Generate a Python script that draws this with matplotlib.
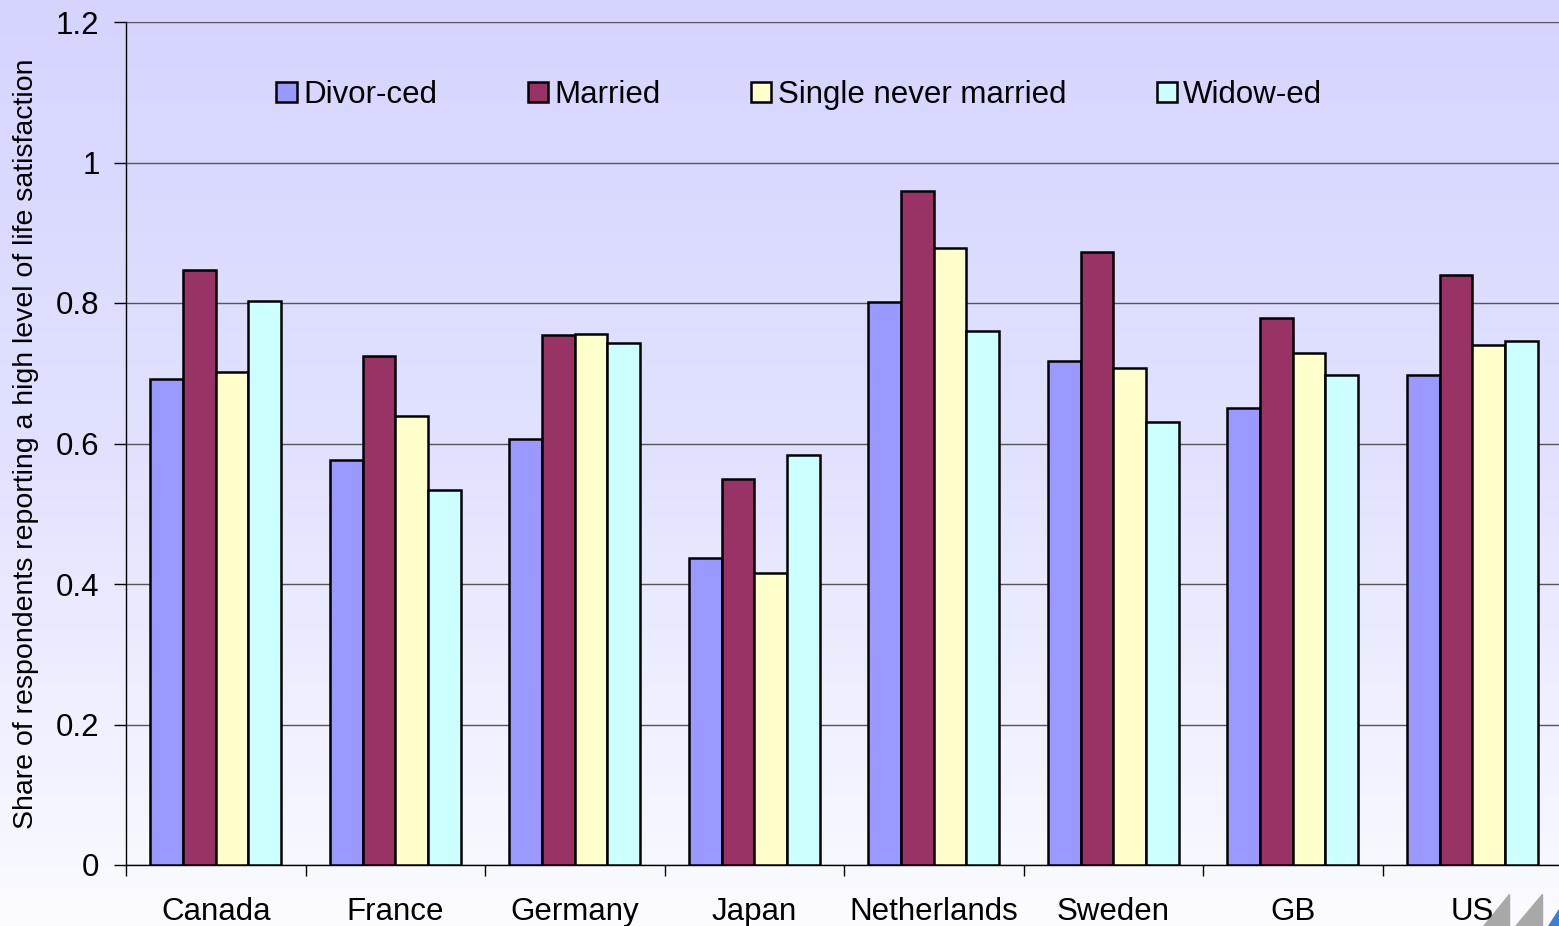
import matplotlib
matplotlib.use("Agg")
import matplotlib.pyplot as plt
import numpy as np
from matplotlib.colors import LinearSegmentedColormap
from matplotlib.patches import Polygon

plt.rcParams["font.family"] = ["Liberation Sans", "DejaVu Sans"]

# ── data ───────────────────────────────────────────────────────────────────────
countries = ["Canada", "France", "Germany", "Japan", "Netherlands", "Sweden", "GB", "US"]
series    = ["Divor-ced", "Married", "Single never married", "Widow-ed"]
divorced  = [0.692, 0.576, 0.606, 0.437, 0.801, 0.717, 0.651, 0.697]
married   = [0.847, 0.725, 0.754, 0.549, 0.959, 0.873, 0.779, 0.840]
single    = [0.702, 0.639, 0.756, 0.416, 0.878, 0.707, 0.729, 0.740]
widowed   = [0.803, 0.534, 0.743, 0.584, 0.760, 0.631, 0.697, 0.746]
colors    = ["#9999FF", "#993366", "#FFFFCC", "#CCFFFF"]
yticks    = [0, 0.2, 0.4, 0.6, 0.8, 1, 1.2]
ytick_lbl = ["0", "0.2", "0.4", "0.6", "0.8", "1", "1.2"]

fig = plt.figure(figsize=(15.59, 9.26), dpi=100)

# background gradient over the whole figure
bg = fig.add_axes([0, 0, 1, 1], zorder=-10)
grad = np.linspace(0, 1, 256).reshape(-1, 1)
cmap = LinearSegmentedColormap.from_list("bg", ["#D4D4FF", "#E2E2FF", "#FBFBFF"])
bg.imshow(grad, aspect="auto", cmap=cmap, extent=[0, 1, 0, 1])
bg.set_xlim(0, 1)
bg.set_ylim(0, 1)
bg.axis("off")

# logo-ish triangles bottom right
for x0 in (0.951, 0.972):
    bg.add_patch(Polygon([[x0, 0.0], [x0 + 0.017, 0.0], [x0 + 0.017, 0.035]],
                         closed=True, color="#A8A8A8"))
bg.add_patch(Polygon([[0.993, 0.0], [1.0, 0.0], [1.0, 0.018]], closed=True, color="#3B7FD0"))

ax = fig.add_axes([126 / 1559, 61 / 926, 1436 / 1559, 843 / 926])
ax.set_facecolor("none")

x = np.arange(len(countries))
w = 0.182
for i, (vals, lab) in enumerate(zip([divorced, married, single, widowed], series)):
    ax.bar(x + (i - 1.5) * w, vals, w, color=colors[i], edgecolor="black",
           linewidth=1.8, label=lab, zorder=3)

ax.set_xlim(-0.5, len(countries) - 0.5)
ax.set_ylim(0, 1.2)
ax.set_yticks(yticks)
ax.set_yticklabels(ytick_lbl, fontsize=22.5)
ax.yaxis.grid(True, color="#555555", lw=1.0, zorder=1)

# category labels between boundary ticks
ax.set_xticks(np.arange(len(countries) + 1) - 0.5)
ax.set_xticklabels([])
ax.set_xticks(x, minor=True)
ax.set_xticklabels(countries, minor=True, fontsize=22.5)
ax.tick_params(axis="x", which="minor", length=0, pad=23)
ax.tick_params(axis="x", which="major", length=8, width=1)
ax.tick_params(axis="y", length=9, width=1, pad=10)

for s in ("top", "right"):
    ax.spines[s].set_visible(False)
ax.spines["left"].set_linewidth(1)
ax.spines["bottom"].set_linewidth(1)

ax.set_ylabel("Share of respondents reporting a high level of life satisfaction",
              fontsize=20.5, labelpad=12)

ax.legend(loc="upper left", bbox_to_anchor=(0.096, 0.946), ncol=4, frameon=False,
          fontsize=22.5, handlelength=0.65, handleheight=0.65, handletextpad=0.2,
          columnspacing=2.9, borderaxespad=0)

plt.savefig("out.png", dpi=100)
plt.close()
